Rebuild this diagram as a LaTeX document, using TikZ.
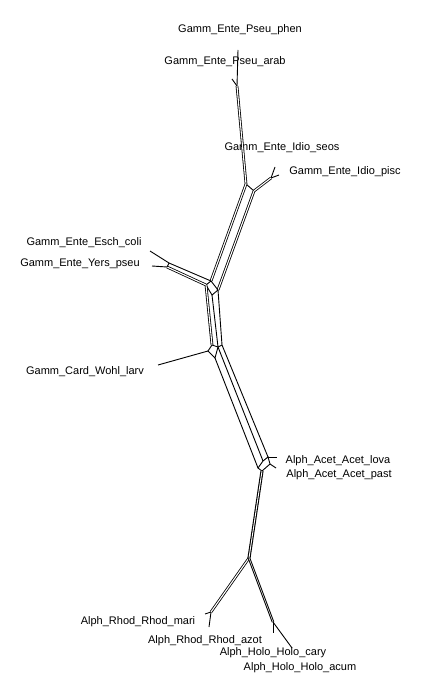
\documentclass[tikz,border=0pt]{standalone}
\usepackage{fontspec}
\setmainfont{Liberation Sans}
\usetikzlibrary{positioning,calc}

\begin{document}
\begin{tikzpicture}[x=1pt,y=-1pt,
  taxon/.style={font=\fontsize{11}{13}\selectfont,inner sep=0pt},
  edge/.style={line width=0.9pt,color=black},
  pair/.style={line width=0.8pt,double,double distance=1.1pt}
]
  \useasboundingbox (0,0) rectangle (442,700);
  % taxa
  \node[taxon] (phen) at (240,30) {Gamm\_Ente\_Pseu\_phen};
  \node[taxon] (arab) at (225,62) {Gamm\_Ente\_Pseu\_arab};
  \node[taxon] (seos) at (282,148) {Gamm\_Ente\_Idio\_seos};
  \node[taxon] (pisc) at (345,172) {Gamm\_Ente\_Idio\_pisc};
  \node[taxon] (coli) at (84,243) {Gamm\_Ente\_Esch\_coli};
  \node[taxon] (pseu) at (80,264) {Gamm\_Ente\_Yers\_pseu};
  \node[taxon] (larv) at (85,372) {Gamm\_Card\_Wohl\_larv};
  \node[taxon] (lova) at (338,461) {Alph\_Acet\_Acet\_lova};
  \node[taxon] (past) at (339,475) {Alph\_Acet\_Acet\_past};
  \node[taxon] (mari) at (138,622) {Alph\_Rhod\_Rhod\_mari};
  \node[taxon] (azot) at (205,641) {Alph\_Rhod\_Rhod\_azot};
  \node[taxon] (cary) at (273,653) {Alph\_Holo\_Holo\_cary};
  \node[taxon] (acum) at (300,668) {Alph\_Holo\_Holo\_acum};
  % leaf tips
  \coordinate (tphen) at (238,50);
  \coordinate (tarab) at (232,79);
  \coordinate (tseos) at (275,167);
  \coordinate (tpisc) at (279,175);
  \coordinate (tcoli) at (150,251);
  \coordinate (tpseu) at (152,266);
  \coordinate (tlarv) at (158,365);
  \coordinate (tlova) at (277,457);
  \coordinate (tpast) at (276,468);
  \coordinate (tmari) at (205,614);
  \coordinate (tazot) at (209,627);
  \coordinate (tcary) at (273,633);
  \coordinate (tacum) at (292,648);
  % split nodes
  \coordinate (v1) at (237,86);
  \coordinate (v2) at (246,184);
  \coordinate (v3) at (254,191);
  \coordinate (v4) at (271,178);
  \coordinate (e1) at (206,285);
  \coordinate (e2) at (211,281);
  \coordinate (e3) at (218,290);
  \coordinate (e4) at (212,295);
  \coordinate (v5) at (167,267);
  \coordinate (v6) at (169,263);
  \coordinate (w1) at (208,351);
  \coordinate (w2) at (212,345);
  \coordinate (w3) at (222,345);
  \coordinate (w4) at (215,358);
  \coordinate (w5) at (218,347);
  \coordinate (a1) at (258,468);
  \coordinate (a2) at (263,461);
  \coordinate (a3) at (268,457);
  \coordinate (a5) at (270,464);
  \coordinate (a4) at (262,471);
  \coordinate (s1) at (249,558);
  \coordinate (r1) at (211,612);
  \coordinate (h1) at (273,622);
  % Pseudomonas / Idiomarina
  \draw[edge] (tphen)--(v1);
  \draw[edge] (tarab)--(v1);
  \draw[pair] (v1)--(v2);
  \draw[edge] (v2)--(v3);
  \draw[pair] (v3)--(v4);
  \draw[edge] (v4)--(tseos);
  \draw[edge] (v4)--(tpisc);
  \draw[pair] (v2)--(e2);
  \draw[pair] (v3)--(e3);
  % Escherichia / Yersinia
  \draw[edge] (e1)--(e2)--(e3)--(e4)--cycle;
  \draw[pair] (e1)--(v5);
  \draw[edge] (e2)--(v6)--(v5);
  \draw[edge] (v6)--(tcoli);
  \draw[edge] (v5)--(tpseu);
  % Wigglesworthia
  \draw[pair] (e1)--(w2);
  \draw[edge] (e4)--(w5);
  \draw[edge] (e3)--(w3);
  \draw[edge] (w2)--(w1)--(w4)--(w5)--(w2);
  \draw[edge] (w5)--(w3);
  \draw[edge] (w1)--(tlarv);
  % long split to Acetobacter
  \draw[edge] (w4)--(a1);
  \draw[edge] (w5)--(a2);
  \draw[edge] (w3)--(a3);
  \draw[edge] (a1)--(a2)--(a3)--(a5)--(a4)--cycle;
  \draw[edge] (a3)--(tlova);
  \draw[edge] (a5)--(tpast);
  % Rhodobacter / Holophaga
  \draw[pair,line width=1.1pt,double distance=0.9pt] (a4)--(s1);
  \draw[pair] (s1)--(r1);
  \draw[edge] (r1)--(tmari);
  \draw[edge] (r1)--(tazot);
  \draw[pair,line width=1pt,double distance=0.5pt] (s1)--(h1);
  \draw[edge] (h1)--(tcary);
  \draw[edge] (h1)--(tacum);
\end{tikzpicture}
\end{document}
